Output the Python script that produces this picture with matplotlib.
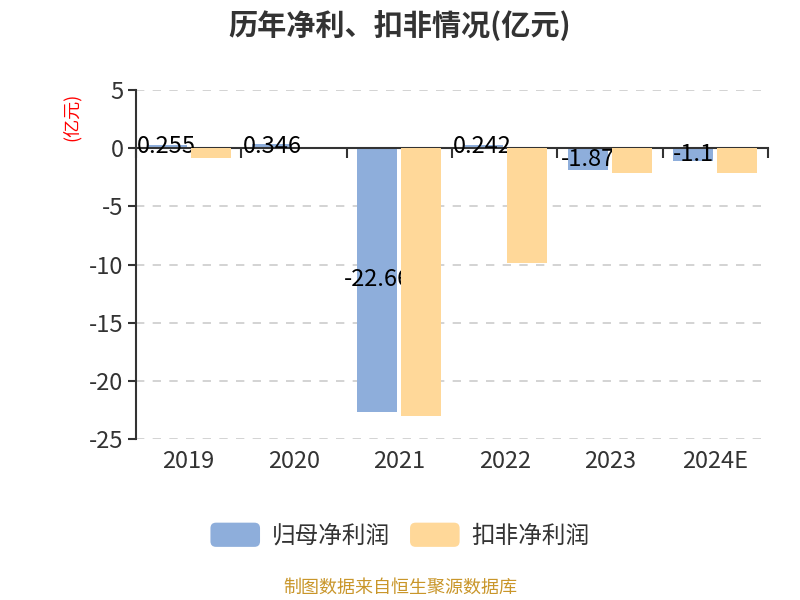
import numpy as np
import matplotlib.pyplot as plt
from matplotlib.patches import Patch, FancyBboxPatch
from matplotlib.legend_handler import HandlerPatch

plt.rcParams['font.family'] = ['Noto Sans CJK SC', 'DejaVu Sans']

# data (亿元)
years = ['2019', '2020', '2021', '2022', '2023', '2024E']
net_profit = [0.255, 0.346, -22.66, 0.242, -1.87, -1.1]
net_profit_adj = [-0.85, -0.02, -23.0, -9.9, -2.15, -2.15]
y_ticks = [5, 0, -5, -10, -15, -20, -25]

blue = '#8eaedb'
orange = '#ffd899'
dark = '#333333'


class RoundedHandler(HandlerPatch):
    def create_artists(self, legend, orig_handle, xdescent, ydescent,
                       width, height, fontsize, trans):
        p = FancyBboxPatch((-xdescent, -ydescent), width, height,
                           boxstyle='round,pad=0,rounding_size=4',
                           facecolor=orig_handle.get_facecolor(),
                           edgecolor='none', transform=trans)
        return [p]


fig = plt.figure(figsize=(8, 6), dpi=100)
ax = fig.add_axes([0.17, 0.2683, 0.79, 0.5817])

x = np.arange(len(years))
w = 0.38
off = 0.21
ax.bar(x - off, net_profit, width=w, color=blue, zorder=2)
ax.bar(x + off, net_profit_adj, width=w, color=orange, zorder=4)

# value labels sit in the middle of the blue bars, under the orange ones
for xi, v in zip(x, net_profit):
    ax.text(xi - off, v / 2, f'{v:g}', ha='center', va='center',
            fontsize=17, color='black', zorder=3)

ax.set_xlim(-0.5, len(years) - 0.5)
ax.set_ylim(-25, 5)
ax.set_yticks(y_ticks)
ax.set_yticklabels([str(t) for t in y_ticks])
ax.yaxis.grid(True, linestyle=(0, (5, 5)), color='#cccccc', linewidth=1.2, zorder=0)
ax.tick_params(axis='y', length=6, width=1.5, color=dark, labelsize=17,
               labelcolor=dark, pad=3)

# x axis line at zero with ticks at category boundaries
ax.spines['bottom'].set_position(('data', 0))
ax.spines['bottom'].set_color(dark)
ax.spines['bottom'].set_linewidth(1.5)
ax.spines['left'].set_color(dark)
ax.spines['left'].set_linewidth(1.5)
ax.spines['top'].set_visible(False)
ax.spines['right'].set_visible(False)
ax.set_xticks(np.arange(-0.5, len(years), 1.0))
ax.set_xticklabels([])
ax.tick_params(axis='x', length=7, width=1.5, color=dark)

# category labels at the bottom of the plot
sec = ax.secondary_xaxis(0.0)
sec.set_xticks(x)
sec.set_xticklabels(years)
sec.tick_params(length=0, labelsize=17, labelcolor=dark, pad=8)
sec.spines['bottom'].set_visible(False)

fig.text(0.5, 0.958, '历年净利、扣非情况(亿元)', ha='center', va='center',
         fontsize=21, fontweight='bold', color=dark)
fig.text(0.09, 0.805, '(亿元)', rotation=90, ha='center', va='center',
         fontsize=13, color='red')

handles = [Patch(facecolor=blue, edgecolor='none', label='归母净利润'),
           Patch(facecolor=orange, edgecolor='none', label='扣非净利润')]
fig.legend(handles=handles, loc='center', bbox_to_anchor=(0.5, 0.108),
           ncol=2, frameon=False, fontsize=17, handlelength=2.1,
           handleheight=1.2, handletextpad=0.5, columnspacing=0.85,
           labelcolor=dark, handler_map={Patch: RoundedHandler()})

fig.text(0.5, 0.02, '制图数据来自恒生聚源数据库', ha='center', va='center',
         fontsize=13, color='#c9962a')

fig.savefig('out.png', dpi=100)
